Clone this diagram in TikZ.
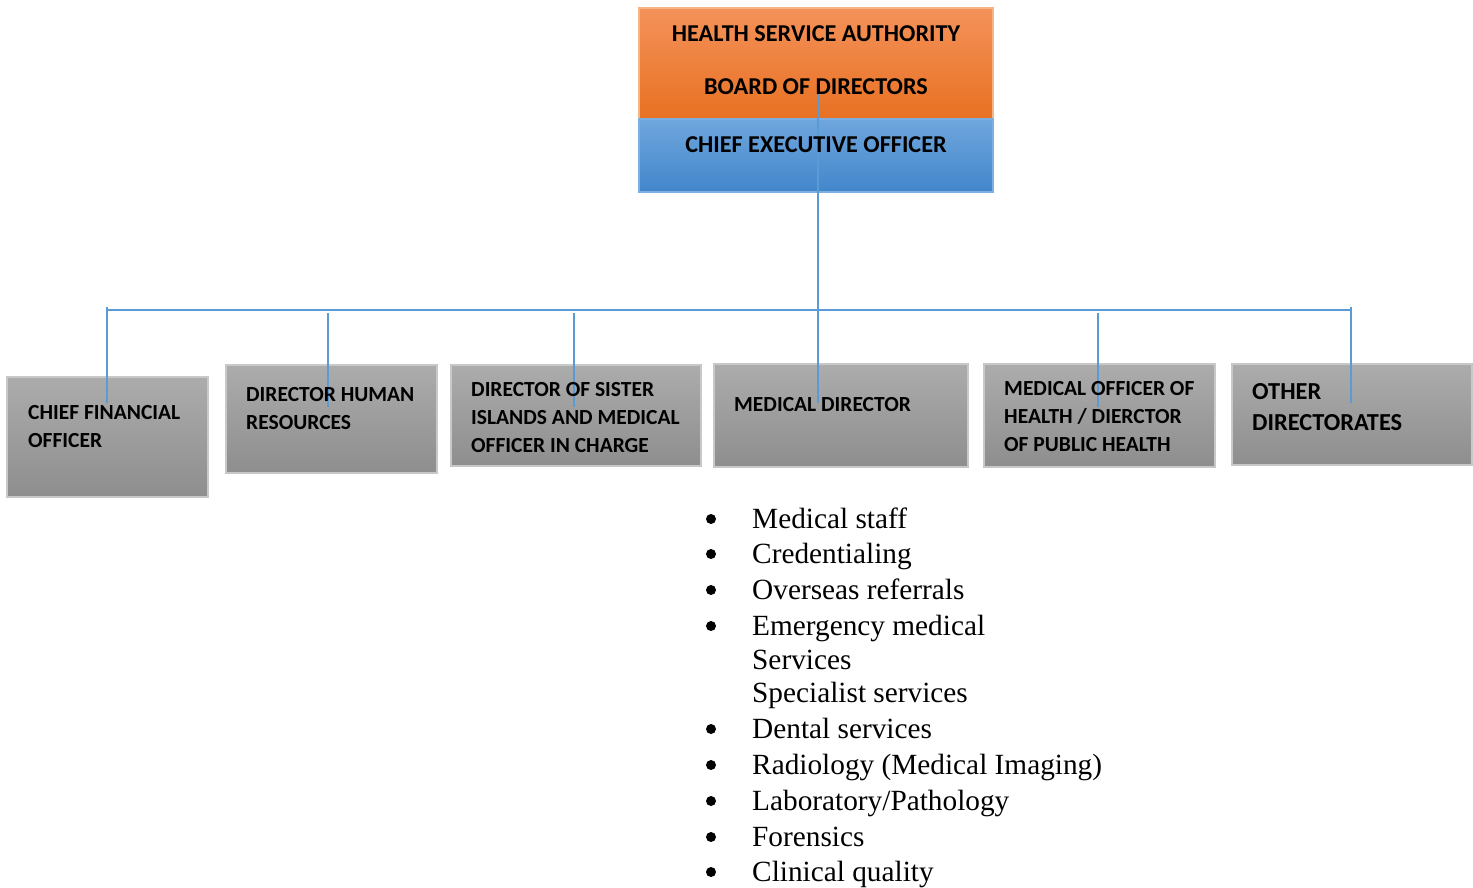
\documentclass[tikz,border=0pt]{standalone}
\usepackage{fontspec}
\setmainfont{Liberation Serif}
\newfontfamily\carlito{Carlito}
\definecolor{lineblue}{RGB}{91,155,213}
\definecolor{orangetop}{RGB}{244,146,90}
\definecolor{orangebot}{RGB}{231,110,30}
\definecolor{orangeborder}{RGB}{245,180,135}
\definecolor{bluetop}{RGB}{111,166,221}
\definecolor{bluebot}{RGB}{66,134,203}
\definecolor{blueborder}{RGB}{125,175,225}
\definecolor{graytop}{RGB}{172,172,172}
\definecolor{graybot}{RGB}{142,142,142}
\definecolor{grayborder}{RGB}{200,200,200}
\begin{document}
\begin{tikzpicture}[x=1pt,y=-1pt]
\useasboundingbox (0,0) rectangle (1473,888);
\tikzset{
  boxbase/.style={inner sep=0pt, outer sep=0pt, anchor=north west, line width=1.5pt},
  graybox/.style={boxbase, draw=grayborder, top color=graytop, bottom color=graybot},
  orangebox/.style={boxbase, draw=orangeborder, top color=orangetop, bottom color=orangebot},
  bluebox/.style={boxbase, draw=blueborder, top color=bluetop, bottom color=bluebot},
  conn/.style={draw=lineblue, line width=1.5pt},
  toplbl/.style={inner sep=0pt, anchor=base, font=\carlito\bfseries\fontsize{24.2}{28}\selectfont},
  lbl/.style={inner sep=0pt, anchor=base west, font=\carlito\bfseries\fontsize{21.5}{28}\selectfont},
  biglbl/.style={inner sep=0pt, anchor=base west, font=\carlito\bfseries\fontsize{24.4}{30}\selectfont},
  item/.style={inner sep=0pt, anchor=base west, font=\fontsize{29.3}{34}\selectfont},
  bullet/.style={circle, fill=black, inner sep=0pt, minimum size=10pt}
}
% boxes
\node[orangebox, minimum width=354pt, minimum height=119pt] (board) at (639,8) {};
\node[bluebox, minimum width=354pt, minimum height=73pt] (ceo) at (639,119) {};
\node[graybox, minimum width=201pt, minimum height=120pt] (cfo) at (7,377) {};
\node[graybox, minimum width=211pt, minimum height=108pt] (dhr) at (226,365) {};
\node[graybox, minimum width=250pt, minimum height=101pt] (dsi) at (451,365) {};
\node[graybox, minimum width=254pt, minimum height=103pt] (md) at (714,364) {};
\node[graybox, minimum width=231pt, minimum height=103pt] (moh) at (984,364) {};
\node[graybox, minimum width=240pt, minimum height=101pt] (od) at (1232,364) {};
% connectors
\coordinate (ceoTop) at (818,85);
\coordinate (mdEnd) at (818,403);
\coordinate (busL) at (107,310);
\coordinate (busR) at (1351,310);
\coordinate (cfoEnd) at (107,403);
\coordinate (odEnd) at (1351,403);
\coordinate (dhrStart) at (328,313);
\coordinate (dhrEnd) at (328,407);
\coordinate (dsiStart) at (574,313);
\coordinate (dsiEnd) at (574,407);
\coordinate (mohStart) at (1098,313);
\coordinate (mohEnd) at (1098,407);
\draw[conn] (busL) -- (busR);
\draw[conn] ([yshift=3pt]busL) -- (cfoEnd);
\draw[conn] ([yshift=3pt]busR) -- (odEnd);
\draw[conn] (ceoTop) -- (mdEnd);
\draw[conn] (dhrStart) -- (dhrEnd);
\draw[conn] (dsiStart) -- (dsiEnd);
\draw[conn] (mohStart) -- (mohEnd);
% labels
\node[toplbl] (t1) at (816,42) {HEALTH SERVICE AUTHORITY};
\node[toplbl] (t2) at (816,95) {BOARD OF DIRECTORS};
\node[toplbl] (t3) at (816,153) {CHIEF EXECUTIVE OFFICER};
\node[lbl] (cfo1) at (28,419) {CHIEF FINANCIAL};
\node[lbl] (cfo2) at (28,447) {OFFICER};
\node[lbl] (dhr1) at (246,401) {DIRECTOR HUMAN};
\node[lbl] (dhr2) at (246,429) {RESOURCES};
\node[lbl] (dsi1) at (471,396) {DIRECTOR OF SISTER};
\node[lbl] (dsi2) at (471,424) {ISLANDS AND MEDICAL};
\node[lbl] (dsi3) at (471,452) {OFFICER IN CHARGE};
\node[lbl] (md1) at (734,411) {MEDICAL DIRECTOR};
\node[lbl] (moh1) at (1004,395) {MEDICAL OFFICER OF};
\node[lbl] (moh2) at (1004,423) {HEALTH / DIERCTOR};
\node[lbl] (moh3) at (1004,451) {OF PUBLIC HEALTH};
\node[biglbl] (od1) at (1252,399) {OTHER};
\node[biglbl] (od2) at (1252,430) {DIRECTORATES};
% list
\node[bullet] (b1) at (711,519) {};
\node[bullet] (b2) at (711,554) {};
\node[bullet] (b3) at (711,590) {};
\node[bullet] (b4) at (711,626) {};
\node[bullet] (b5) at (711,729) {};
\node[bullet] (b6) at (711,765) {};
\node[bullet] (b7) at (711,801) {};
\node[bullet] (b8) at (711,837) {};
\node[bullet] (b9) at (711,872) {};
\node[item] (i1) at (752,528) {Medical staff};
\node[item] (i2) at (752,563) {Credentialing};
\node[item] (i3) at (752,599) {Overseas referrals};
\node[item] (i4) at (752,635) {Emergency medical};
\node[item] (i5) at (752,669) {Services};
\node[item] (i6) at (752,702) {Specialist services};
\node[item] (i7) at (752,738) {Dental services};
\node[item] (i8) at (752,774) {Radiology (Medical Imaging)};
\node[item] (i9) at (752,810) {Laboratory/Pathology};
\node[item] (i10) at (752,846) {Forensics};
\node[item] (i11) at (752,881) {Clinical quality};
\end{tikzpicture}
\end{document}
